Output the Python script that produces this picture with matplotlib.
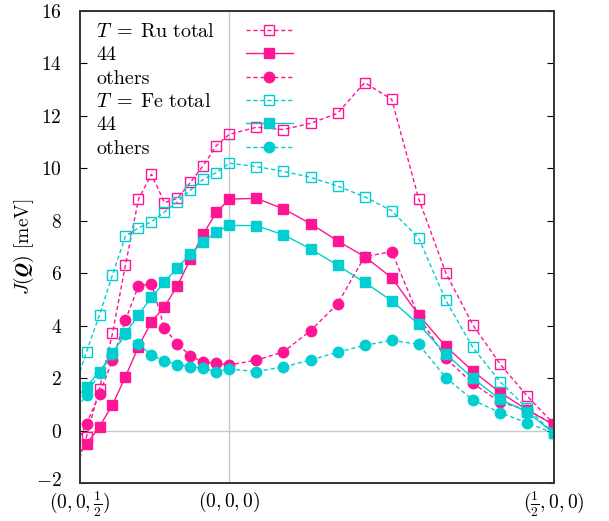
import matplotlib
matplotlib.use("Agg")
import matplotlib.pyplot as plt
import matplotlib.transforms as mtransforms
import numpy as np
from matplotlib.lines import Line2D
from matplotlib.ticker import FuncFormatter

plt.rcParams["mathtext.fontset"] = "cm"
plt.rcParams["font.family"] = "serif"
plt.rcParams["font.serif"] = ["cmr10", "DejaVu Serif"]
plt.rcParams["axes.unicode_minus"] = False

# path: (0,0,1/2) -> (0,0,0) -> (1/2,0,0); left steps are shorter (c* < a*)
n_left = 13   # includes one point clipped beyond (0,0,1/2)
n_right = 12
step_left = 0.02
step_right = 0.5 / 12
left_end = -0.23

ru_total = [-1.8, -0.23, 1.60, 3.71, 6.31, 8.81, 9.77, 8.69, 8.85, 9.46, 10.10, 10.86, 11.29,
            11.56, 11.47, 11.71, 12.09, 13.26, 12.62, 8.83, 6.01, 4.03, 2.55, 1.33, 0.25]
ru_44 = [-1.15, -0.51, 0.15, 0.99, 2.06, 3.2, 4.15, 4.72, 5.52, 6.54, 7.50, 8.32, 8.82,
         8.85, 8.45, 7.89, 7.23, 6.63, 5.83, 4.41, 3.21, 2.27, 1.46, 0.80, 0.22]
ru_others = [-0.7, 0.26, 1.40, 2.69, 4.22, 5.51, 5.60, 3.92, 3.29, 2.86, 2.60, 2.57, 2.50,
             2.69, 3.00, 3.81, 4.83, 6.63, 6.82, 4.35, 2.76, 1.80, 1.10, 0.79, 0.25]
fe_total = [1.5, 3.01, 4.41, 5.93, 7.42, 7.72, 7.96, 8.33, 8.72, 9.16, 9.58, 9.83, 10.19,
            10.06, 9.88, 9.65, 9.32, 8.91, 8.38, 7.33, 4.97, 3.17, 1.87, 0.85, -0.10]
fe_44 = [1.13, 1.68, 2.25, 2.95, 3.71, 4.41, 5.08, 5.66, 6.21, 6.73, 7.19, 7.58, 7.82,
         7.81, 7.46, 6.93, 6.30, 5.65, 4.95, 4.05, 2.92, 2.00, 1.20, 0.72, -0.10]
fe_others = [0.68, 1.35, 2.2, 2.93, 3.68, 3.30, 2.88, 2.66, 2.52, 2.44, 2.38, 2.25, 2.35,
             2.25, 2.43, 2.69, 2.99, 3.25, 3.44, 3.29, 2.02, 1.17, 0.69, 0.30, -0.10]

tick_labels = [r"$(0,0,\frac{1}{2})$", r"$(0,0,0)$", r"$(\frac{1}{2},0,0)$"]
labels = [r"$T\;=\;\mathrm{Ru\ total}$", "44", "others",
          r"$T\;=\;\mathrm{Fe\ total}$", "44", "others"]

pink = "#ff1493"
cyan = "#00ced1"

x = np.concatenate([-step_left * np.arange(n_left - 1, -1, -1),
                    step_right * np.arange(1, n_right + 1)])

fig = plt.figure(figsize=(6.09, 5.21), dpi=100)
ax = fig.add_axes([0.1314, 0.0726, 0.7783, 0.9069])

ax.axhline(0, color="#c8c8c8", lw=1, zorder=0)
ax.axvline(0, color="#c8c8c8", lw=1, zorder=0)

dash = (0, (3, 2))
series = [
    (ru_total, pink, dash, "s", "none", 6.5),
    (ru_44, pink, "-", "s", pink, 7.5),
    (ru_others, pink, dash, "o", pink, 7.5),
    (fe_total, cyan, dash, "s", "none", 6.5),
    (fe_44, cyan, "-", "s", cyan, 7.5),
    (fe_others, cyan, dash, "o", cyan, 7.5),
]
handles = []
for y, c, ls, m, fc, ms in series:
    h, = ax.plot(x, y, color=c, ls=ls, lw=1.0, marker=m, mfc=fc, mec=c, ms=ms,
                 mew=1.0)
    handles.append(h)

ax.set_xlim(left_end, 0.5)
ax.set_ylim(-2, 16)
ax.set_xticks([left_end, 0, 0.5])
ax.set_xticklabels(tick_labels)
ax.set_yticks(np.arange(-2, 17, 2))
ax.yaxis.set_major_formatter(FuncFormatter(lambda v, p: f"${v:g}$"))
ax.tick_params(axis="y", direction="in", length=5, right=True, labelsize=14, pad=13)
ax.tick_params(axis="x", length=0, labelsize=14, pad=4.5)
ax.set_ylabel(r"$J(\boldsymbol{Q})$ [meV]", fontsize=14, labelpad=0)
for s in ax.spines.values():
    s.set_linewidth(1.4)
    s.set_color("#333333")

# nudge the bottom y label up a little so it clears the first x label
lab = ax.yaxis.get_major_ticks()[0].label1
lab.set_transform(lab.get_transform() +
                  mtransforms.ScaledTranslation(0, 3 / 72, fig.dpi_scale_trans))

# legend: labels left-aligned in one column, line samples in another
blank = [Line2D([], [], ls="none") for _ in labels]
leg_kw = dict(loc="upper left", frameon=False, fontsize=14.5, labelspacing=0.26,
              borderpad=0, borderaxespad=0, handletextpad=0)
leg_text = ax.legend(blank, labels, bbox_to_anchor=(0.034, 0.974),
                     handlelength=0, **leg_kw)
ax.add_artist(leg_text)
ax.legend(handles, [""] * len(handles), bbox_to_anchor=(0.350, 0.974),
          handlelength=2.33, **leg_kw)

fig.savefig("out.png", dpi=100)
